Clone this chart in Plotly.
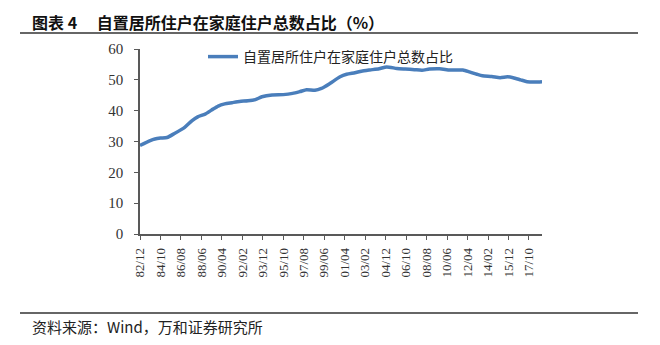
import plotly.graph_objects as go

# Share of owner-occupied households in all domestic households (%)
months = [
    "1982-12", "1983-11", "1984-04", "1984-10", "1985-05", "1986-01", "1986-12",
    "1987-08", "1988-02", "1988-10", "1989-05", "1989-12", "1990-07", "1991-03",
    "1991-11", "1992-08", "1993-04", "1993-11", "1994-10", "1995-10", "1996-08",
    "1997-04", "1997-11", "1998-08", "1999-03", "1999-12", "2000-11", "2001-06",
    "2002-03", "2002-10", "2003-07", "2004-05", "2005-01", "2005-12", "2006-09",
    "2007-07", "2008-03", "2008-11", "2009-10", "2010-09", "2011-05", "2011-11",
    "2012-06", "2013-02", "2013-08", "2014-06", "2015-03", "2015-11", "2016-05",
    "2017-01", "2017-08", "2018-05", "2018-12",
]
share = [
    28.7, 30.3, 30.8, 31.1, 31.3, 32.6, 34.6,
    36.8, 38.0, 38.9, 40.2, 41.5, 42.2, 42.6,
    43.0, 43.2, 43.6, 44.5, 45.1, 45.2, 45.6,
    46.2, 46.8, 46.6, 47.2, 48.8, 51.0, 51.8,
    52.3, 52.8, 53.2, 53.6, 54.2, 53.7, 53.5,
    53.3, 53.1, 53.5, 53.6, 53.2, 53.2, 53.2,
    52.6, 51.8, 51.3, 51.1, 50.7, 51.0, 50.7,
    50.0, 49.4, 49.3, 49.4,
]
tick_labels = [
    "82/12", "84/10", "86/08", "88/06", "90/04", "92/02", "93/12", "95/10",
    "97/08", "99/06", "01/04", "03/02", "04/12", "06/10", "08/08", "10/06",
    "12/04", "14/02", "15/12", "17/10",
]
series_name = "自置居所住户在家庭住户总数占比"
title_text = "图表 4　 自置居所住户在家庭住户总数占比（%）"
source_text = "资料来源：Wind，万和证券研究所"


def label_to_date(lbl):
    yy, mm = lbl.split("/")
    year = 1900 + int(yy) if int(yy) >= 50 else 2000 + int(yy)
    return f"{year}-{mm}-01"


tick_vals = [label_to_date(t) for t in tick_labels]

# plot-area geometry in pixels (used to place paper-referenced decorations)
W, H = 660, 345
L, R, T, B = 140, 118, 49, 111
PW, PH = W - L - R, H - T - B


def px(x):
    return (x - L) / PW


def py(y):
    return (H - B - y) / PH


axis_col = "#595959"
serif = "Liberation Serif"
cjk = "Noto Sans CJK SC"

fig = go.Figure()
fig.add_trace(go.Scatter(
    x=months, y=share, mode="lines", name=series_name,
    line=dict(color="#4A7EBB", width=3.5, shape="spline", smoothing=0.6),
))

fig.update_layout(
    width=W, height=H,
    margin=dict(l=L, r=R, t=T, b=B),
    paper_bgcolor="white", plot_bgcolor="white",
    showlegend=True,
    legend=dict(
        x=px(203), y=py(41), xanchor="left", yanchor="top",
        bgcolor="rgba(0,0,0,0)", font=dict(family=cjk, size=14, color="#222"),
    ),
    xaxis=dict(
        type="date", range=["1982-12-01", "2018-12-01"],
        tickmode="array", tickvals=tick_vals, ticktext=tick_labels,
        tickangle=-90, ticks="outside", ticklen=4, tickcolor=axis_col,
        ticklabelstandoff=3,
        showline=True, linecolor=axis_col, linewidth=1.5,
        showgrid=False, zeroline=False,
        tickfont=dict(family=serif, size=13, color="#333"),
    ),
    yaxis=dict(
        range=[0, 60], dtick=10, tick0=0,
        ticks="outside", ticklen=4, tickcolor=axis_col,
        ticklabelstandoff=8,
        showline=True, linecolor=axis_col, linewidth=1.5,
        showgrid=False, zeroline=False,
        tickfont=dict(family=serif, size=15, color="#333"),
    ),
)

# heading and source lines
fig.add_shape(type="line", xref="paper", yref="paper",
              x0=px(20), x1=px(638), y0=py(33), y1=py(33),
              line=dict(color="#333", width=1.3))
fig.add_shape(type="line", xref="paper", yref="paper",
              x0=px(20), x1=px(638), y0=py(313), y1=py(313),
              line=dict(color="#333", width=1.3))

fig.add_annotation(xref="paper", yref="paper", x=px(30), y=py(22),
                   xanchor="left", yanchor="middle", showarrow=False,
                   text=f"<b>{title_text}</b>",
                   font=dict(family=cjk, size=16, color="#111"))
fig.add_annotation(xref="paper", yref="paper", x=px(30), y=py(326),
                   xanchor="left", yanchor="middle", showarrow=False,
                   text=source_text,
                   font=dict(family=cjk, size=15, color="#222"))

fig.write_html("out.html")
